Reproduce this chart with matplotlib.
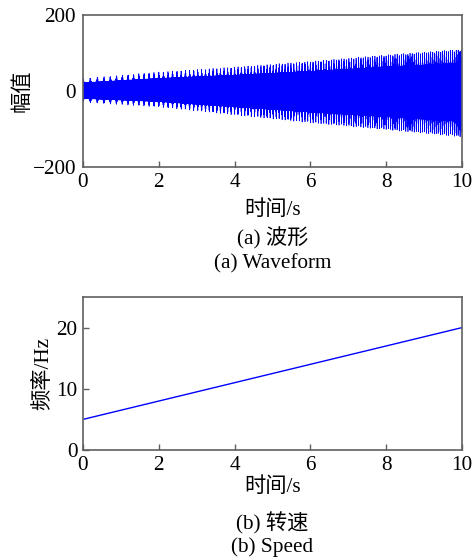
import numpy as np
import matplotlib
matplotlib.use("Agg")
import matplotlib.pyplot as plt

plt.rcParams['font.family'] = ['Liberation Serif', 'Noto Sans CJK SC']
plt.rcParams['font.size'] = 15.3
plt.rcParams['axes.unicode_minus'] = True

# values
env_time = [0, 2, 4, 6, 8, 10]             # s
env_upper = [33, 50, 63, 78, 95, 110]      # peak amplitude
env_lower = [-30, -42, -63, -84, -102, -121]
speed_time = [0, 10]                       # s
speed_hz = [5, 20]                         # rotating frequency, Hz

x_ticks = [0, 2, 4, 6, 8, 10]
wave_yticks = [-200, 0, 200]
speed_yticks = [0, 10, 20]

blue = '#0000ff'
spine_grey = '#606060'

# vibration signal driven by the rotating speed
fs = 4000
t = np.arange(0, 10, 1 / fs)
f_rot = np.interp(t, speed_time, speed_hz)
phase = np.cumsum(f_rot) / fs
upper = np.interp(t, env_time, env_upper)
lower = np.interp(t, env_time, env_lower)
carrier = np.sin(2 * np.pi * 11.7 * phase)
pulse = np.cos(np.pi * phase) ** 16
shape = carrier * (0.66 + 0.34 * pulse)
wave = np.where(shape >= 0, shape * upper, -shape * lower)

fig = plt.figure(figsize=(4.74, 5.6), dpi=100)
W, H = 474, 560


def box(l, t_, r, b):
    return [l / W, 1 - b / H, (r - l) / W, (b - t_) / H]


def style(ax):
    for s in ax.spines.values():
        s.set_color(spine_grey)
        s.set_linewidth(1.2)
    ax.tick_params(direction='in', length=4, width=1, color=spine_grey, pad=4)


ax1 = fig.add_axes(box(83, 15, 462, 167))
ax1.plot(t, wave, color=blue, linewidth=0.5)
ax1.set_xlim(0, 10)
ax1.set_ylim(-200, 200)
ax1.set_xticks(x_ticks)
ax1.set_yticks(wave_yticks)
ax1.set_yticklabels(['\u2212200', '0', '200'])
style(ax1)
ax1.tick_params(axis='y', length=0, pad=5)
ax1.set_xlabel('时间/s', labelpad=6)
ax1.set_ylabel('幅值', labelpad=0)
fig.text(0.5 * (83 + 462) / W, 1 - 238 / H, '(a) 波形', ha='center', va='center')
fig.text(0.5 * (83 + 462) / W, 1 - 264 / H, '(a) Waveform', ha='center', va='center')

ax2 = fig.add_axes(box(83, 297, 462, 450))
ax2.plot(speed_time, speed_hz, color=blue, linewidth=1)
ax2.set_xlim(0, 10)
ax2.set_ylim(0, 25)
ax2.set_xticks(x_ticks)
ax2.set_yticks(speed_yticks)
style(ax2)
ax2.set_xlabel('时间/s', labelpad=2)
ax2.set_ylabel('频率/Hz', labelpad=2)
fig.text(0.5 * (83 + 462) / W, 1 - 523 / H, '(b) 转速', ha='center', va='center')
fig.text(0.5 * (83 + 462) / W, 1 - 547 / H, '(b) Speed', ha='center', va='center')

fig.savefig('out.png', dpi=100)
